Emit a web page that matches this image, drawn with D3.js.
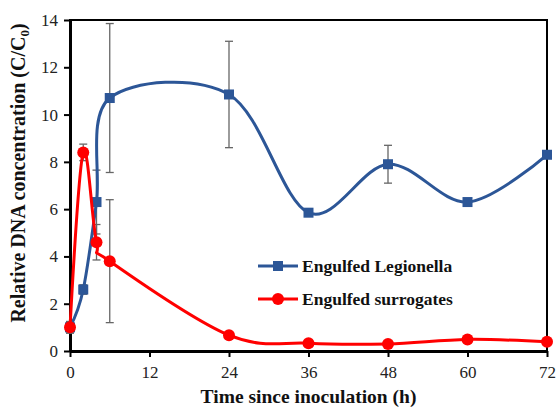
<!DOCTYPE html>
<html>
<head>
<meta charset="utf-8">
<script src="https://cdn.jsdelivr.net/npm/d3@7"></script>
<style>
  body { margin: 0; background: #fff; }
  svg { display: block; }
</style>
</head>
<body>
<svg width="556" height="407"></svg>
<script>
// values
let hours = [0, 2, 4, 6, 24, 36, 48, 60, 72]
let legionella = [1.0, 2.6, 6.3, 10.7, 10.85, 5.85, 7.9, 6.3, 8.3]
let legionellaErr = [0.25, 0.2, 1.35, 3.15, 2.25, 0, 0.8, 0, 0]
let surrogates = [1.0, 8.4, 4.6, 3.8, 0.67, 0.33, 0.3, 0.49, 0.39]
let surrogatesErr = [0.2, 0.35, 0.75, 2.6, 0, 0, 0, 0, 0]
let xTicks = [0, 12, 24, 36, 48, 60, 72]
let yTicks = [0, 2, 4, 6, 8, 10, 12, 14]

let font = "'Liberation Serif'"
let svg = d3.select('svg')
let plotLeft = 70
let plotRight = 547
let plotTop = 20
let plotBottom = 351

let x = d3.scaleLinear().domain([0, 72]).range([plotLeft, plotRight])
let y = d3.scaleLinear().domain([0, 14]).range([plotBottom, plotTop])

let blue = '#2C5697'
let red = '#FF0000'

// frame
svg.append('rect')
  .attr('x', plotLeft).attr('y', plotTop)
  .attr('width', plotRight - plotLeft).attr('height', plotBottom - plotTop)
  .attr('fill', 'none').attr('stroke', '#000').attr('stroke-width', 2)

let xAxis = svg.append('g')
  .attr('transform', 'translate(0,' + plotBottom + ')')
  .call(d3.axisBottom(x).tickValues(xTicks).tickSize(6).tickSizeOuter(0))
let yAxis = svg.append('g')
  .attr('transform', 'translate(' + plotLeft + ',0)')
  .call(d3.axisLeft(y).tickValues(yTicks).tickSize(6).tickSizeOuter(0))

;[xAxis, yAxis].forEach(function (a) {
  a.attr('font-family', font).attr('font-size', 17)
  a.select('.domain').attr('stroke', '#000').attr('stroke-width', 3)
  a.selectAll('.tick line').attr('stroke', '#000').attr('stroke-width', 2)
  a.selectAll('.tick text').attr('fill', '#222')
})
xAxis.selectAll('.tick text').attr('dy', '1.05em')
yAxis.selectAll('.tick text').attr('x', -12)

// error bars
function errorBars (vals, errs) {
  let g = svg.append('g').attr('stroke', '#666').attr('stroke-width', 1.3)
  hours.forEach(function (h, i) {
    if (!errs[i]) return
    let cx = x(h)
    let y1 = y(vals[i] + errs[i])
    let y2 = y(vals[i] - errs[i])
    g.append('line').attr('x1', cx).attr('x2', cx).attr('y1', y1).attr('y2', y2)
    g.append('line').attr('x1', cx - 4).attr('x2', cx + 4).attr('y1', y1).attr('y2', y1)
    g.append('line').attr('x1', cx - 4).attr('x2', cx + 4).attr('y1', y2).attr('y2', y2)
  })
}
errorBars(legionella, legionellaErr)
errorBars(surrogates, surrogatesErr)

let line = d3.line()
  .x(function (d) { return x(d[0]) })
  .y(function (d) { return y(d[1]) })
  .curve(d3.curveCardinal.tension(0))

function series (vals, color, shape) {
  let pts = hours.map(function (h, i) { return [h, vals[i]] })
  svg.append('path')
    .datum(pts)
    .attr('d', line)
    .attr('fill', 'none')
    .attr('stroke', color)
    .attr('stroke-width', 3)
  let g = svg.append('g').attr('fill', color)
  pts.forEach(function (p) {
    if (shape === 'square') {
      g.append('rect')
        .attr('x', x(p[0]) - 5).attr('y', y(p[1]) - 5)
        .attr('width', 10).attr('height', 10)
    } else {
      g.append('circle').attr('cx', x(p[0])).attr('cy', y(p[1])).attr('r', 6)
    }
  })
}
series(legionella, blue, 'square')
series(surrogates, red, 'circle')

// legend
let legend = [
  { label: 'Engulfed Legionella', color: blue, shape: 'square' },
  { label: 'Engulfed surrogates', color: red, shape: 'circle' }
]
legend.forEach(function (d, i) {
  let ly = 266 + i * 33
  svg.append('line')
    .attr('x1', 258).attr('x2', 298).attr('y1', ly).attr('y2', ly)
    .attr('stroke', d.color).attr('stroke-width', 3)
  if (d.shape === 'square') {
    svg.append('rect').attr('x', 273).attr('y', ly - 5).attr('width', 10).attr('height', 10).attr('fill', d.color)
  } else {
    svg.append('circle').attr('cx', 278).attr('cy', ly).attr('r', 6).attr('fill', d.color)
  }
  svg.append('text')
    .attr('x', 302).attr('y', ly + 6)
    .attr('font-family', font).attr('font-size', 17.5).attr('font-weight', 'bold')
    .attr('fill', '#111')
    .text(d.label)
})

// axis titles
svg.append('text')
  .attr('x', (plotLeft + plotRight) / 2).attr('y', 403)
  .attr('text-anchor', 'middle')
  .attr('font-family', font).attr('font-size', 19.5).attr('font-weight', 'bold')
  .attr('fill', '#111')
  .text('Time since inoculation (h)')

let yt = svg.append('text')
  .attr('transform', 'translate(25,173) rotate(-90)')
  .attr('text-anchor', 'middle')
  .attr('font-family', font).attr('font-size', 20).attr('font-weight', 'bold')
  .attr('fill', '#111')
yt.append('tspan').text('Relative DNA concentration (C/C')
yt.append('tspan').attr('dy', 4).attr('font-size', 13).text('0')
yt.append('tspan').attr('dy', -4).text(')')
</script>
</body>
</html>
